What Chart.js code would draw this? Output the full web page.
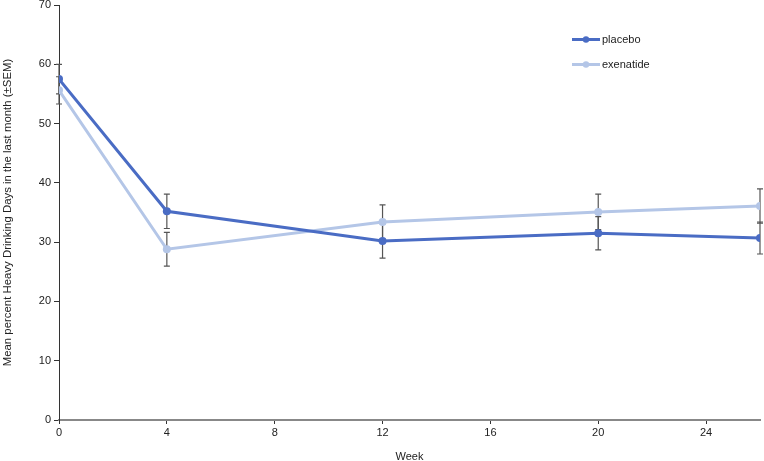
<!DOCTYPE html>
<html>
<head>
<meta charset="utf-8">
<script src="https://cdn.jsdelivr.net/npm/chart.js@4"></script>
<style>
html,body{margin:0;padding:0;background:#fff;}
#wrap{width:764px;height:461px;}
</style>
</head>
<body>
<div id="wrap"><canvas id="c" width="764" height="461"></canvas></div>
<script>
const weeks = [0, 4, 12, 20, 26];
const placebo = [57.5, 35.2, 30.2, 31.5, 30.7];
const placeboSEM = [2.5, 2.9, 2.9, 2.8, 2.7];
const exenatide = [55.6, 28.8, 33.4, 35.1, 36.1];
const exenatideSEM = [2.3, 2.85, 2.9, 3.0, 2.9];
const seriesNames = ['placebo', 'exenatide'];
const xTicks = [0, 4, 8, 12, 16, 20, 24];
const yTicks = [0, 10, 20, 30, 40, 50, 60, 70];

const colPlacebo = '#4a6cc4';
const colExen = '#b4c6e7';
const FONT = '"Liberation Sans", Arial, sans-serif';

const errorBars = {
  id: 'errorBars',
  beforeDatasetsDraw(chart) {
    const ctx = chart.ctx;
    const xs = chart.scales.x, ys = chart.scales.y;
    ctx.save();
    ctx.strokeStyle = '#555';
    ctx.lineWidth = 1.2;
    chart.data.datasets.forEach(ds => {
      ds.data.forEach((p, i) => {
        const e = ds.sem[i];
        const x = xs.getPixelForValue(p.x);
        const y1 = ys.getPixelForValue(p.y + e);
        const y2 = ys.getPixelForValue(p.y - e);
        ctx.beginPath();
        ctx.moveTo(x, y1); ctx.lineTo(x, y2);
        ctx.moveTo(x - 3, y1); ctx.lineTo(x + 3, y1);
        ctx.moveTo(x - 3, y2); ctx.lineTo(x + 3, y2);
        ctx.stroke();
      });
    });
    ctx.restore();
  }
};

const customLegend = {
  id: 'customLegend',
  afterDraw(chart) {
    const ctx = chart.ctx;
    ctx.save();
    const items = [[colPlacebo, seriesNames[0], 39.5], [colExen, seriesNames[1], 64.5]];
    items.forEach(([c, t, y]) => {
      ctx.strokeStyle = c;
      ctx.lineWidth = 3;
      ctx.beginPath(); ctx.moveTo(572, y); ctx.lineTo(600, y); ctx.stroke();
      ctx.fillStyle = c;
      ctx.beginPath(); ctx.arc(586, y, 3.2, 0, Math.PI * 2); ctx.fill();
      ctx.fillStyle = '#222';
      ctx.font = '11px ' + FONT;
      ctx.textBaseline = 'middle';
      ctx.textAlign = 'left';
      ctx.fillText(t, 602, y);
    });
    ctx.restore();
  }
};

function pts(vals) { return weeks.map((w, i) => ({ x: w, y: vals[i] })); }

new Chart(document.getElementById('c'), {
  type: 'line',
  data: {
    datasets: [
      { label: seriesNames[0], data: pts(placebo), sem: placeboSEM, borderColor: colPlacebo, backgroundColor: colPlacebo,
        borderWidth: 3, pointRadius: 4, pointBorderWidth: 0, tension: 0 },
      { label: seriesNames[1], data: pts(exenatide), sem: exenatideSEM, borderColor: colExen, backgroundColor: colExen,
        borderWidth: 3, pointRadius: 4, pointBorderWidth: 0, tension: 0 }
    ]
  },
  options: {
    responsive: false,
    animation: false,
    devicePixelRatio: 1,
    layout: { padding: { top: 0, right: 3, left: 1, bottom: -3 } },
    plugins: { legend: { display: false }, tooltip: { enabled: false } },
    scales: {
      x: {
        type: 'linear', min: 0, max: 26,
        afterBuildTicks(s) { s.ticks = xTicks.map(v => ({ value: v })); },
        afterFit(s) { s.height = 44; },
        grid: { drawOnChartArea: false, drawTicks: true, tickLength: 4, color: '#333' },
        border: { color: '#888', width: 2 },
        ticks: { color: '#222', font: { family: FONT, size: 11 }, padding: 2, maxRotation: 0 },
        title: { display: true, text: 'Week', color: '#222', font: { family: FONT, size: 11 }, padding: { top: 10, bottom: 0 } }
      },
      y: {
        min: 0, max: 70,
        afterBuildTicks(s) { s.ticks = yTicks.map(v => ({ value: v })); },
        afterFit(s) { s.width = 58; s.paddingTop = 5; },
        grid: { drawOnChartArea: false, drawTicks: true, tickLength: 5, color: '#333' },
        border: { color: '#333', width: 1 },
        ticks: { color: '#222', font: { family: FONT, size: 11 }, padding: 3 },
        title: { display: true, text: 'Mean percent Heavy Drinking Days in the last month (±SEM)', color: '#222', font: { family: FONT, size: 11.4 }, padding: { top: 0, bottom: 4 } }
      }
    }
  },
  plugins: [errorBars, customLegend]
});
</script>
</body>
</html>
